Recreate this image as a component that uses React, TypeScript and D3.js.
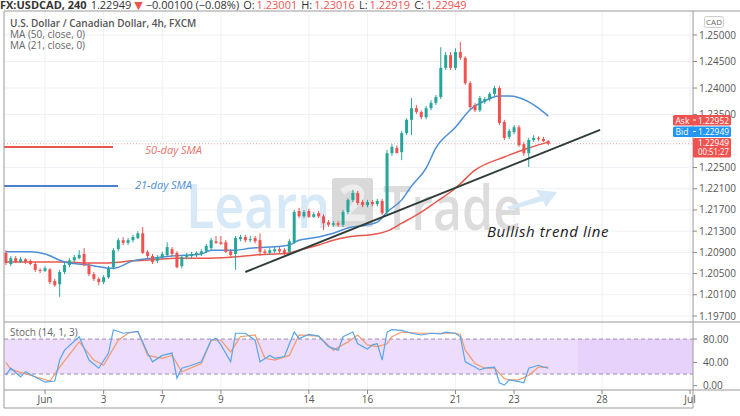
import React from "react";
import * as d3 from "d3";

// ---- DATA ----
// 4h candles [open, high, low, close], index 8 = first candle of Jun 1
const candles: [number, number, number, number][] = [
  [1.2089, 1.2094, 1.2066, 1.2070], [1.2068, 1.2083, 1.2064, 1.2079], [1.2079, 1.2083, 1.2070, 1.2072], [1.2072, 1.2081, 1.2070, 1.2077],
  [1.2077, 1.2079, 1.2068, 1.2072], [1.2074, 1.2077, 1.2066, 1.2068], [1.2068, 1.2072, 1.2053, 1.2057], [1.2057, 1.2060, 1.2051, 1.2055],
  [1.2055, 1.2064, 1.2053, 1.2060], [1.2058, 1.2060, 1.2030, 1.2034], [1.2036, 1.2040, 1.2025, 1.2028], [1.2030, 1.2057, 1.2006, 1.2053],
  [1.2053, 1.2070, 1.2049, 1.2066], [1.2066, 1.2079, 1.2062, 1.2075], [1.2075, 1.2085, 1.2072, 1.2081], [1.2079, 1.2094, 1.2077, 1.2085],
  [1.2087, 1.2098, 1.2064, 1.2066], [1.2066, 1.2070, 1.2045, 1.2049], [1.2049, 1.2053, 1.2036, 1.2040], [1.2040, 1.2043, 1.2028, 1.2034],
  [1.2034, 1.2047, 1.2030, 1.2043], [1.2043, 1.2064, 1.2040, 1.2060], [1.2062, 1.2098, 1.2058, 1.2094], [1.2096, 1.2117, 1.2092, 1.2113],
  [1.2113, 1.2119, 1.2104, 1.2108], [1.2108, 1.2117, 1.2104, 1.2113], [1.2113, 1.2123, 1.2109, 1.2119], [1.2117, 1.2130, 1.2115, 1.2126],
  [1.2126, 1.2138, 1.2087, 1.2089], [1.2091, 1.2094, 1.2079, 1.2083], [1.2083, 1.2087, 1.2068, 1.2072], [1.2074, 1.2085, 1.2070, 1.2081],
  [1.2081, 1.2091, 1.2077, 1.2087], [1.2085, 1.2109, 1.2081, 1.2100], [1.2096, 1.2100, 1.2083, 1.2087], [1.2089, 1.2092, 1.2060, 1.2062],
  [1.2064, 1.2085, 1.2060, 1.2081], [1.2081, 1.2089, 1.2077, 1.2085], [1.2083, 1.2091, 1.2079, 1.2087], [1.2085, 1.2092, 1.2081, 1.2089],
  [1.2087, 1.2096, 1.2083, 1.2092], [1.2092, 1.2106, 1.2089, 1.2102], [1.2098, 1.2117, 1.2094, 1.2113], [1.2111, 1.2121, 1.2106, 1.2108],
  [1.2109, 1.2121, 1.2104, 1.2106], [1.2109, 1.2113, 1.2089, 1.2091], [1.2092, 1.2096, 1.2081, 1.2085], [1.2087, 1.2121, 1.2057, 1.2117],
  [1.2115, 1.2123, 1.2111, 1.2119], [1.2119, 1.2123, 1.2109, 1.2113], [1.2113, 1.2121, 1.2109, 1.2115], [1.2117, 1.2121, 1.2107, 1.2111],
  [1.2113, 1.2126, 1.2083, 1.2091], [1.2092, 1.2096, 1.2085, 1.2089], [1.2089, 1.2098, 1.2085, 1.2094], [1.2092, 1.2100, 1.2089, 1.2096],
  [1.2096, 1.2100, 1.2089, 1.2092], [1.2094, 1.2098, 1.2085, 1.2089], [1.2091, 1.2115, 1.2087, 1.2111], [1.2109, 1.2170, 1.2106, 1.2166],
  [1.2168, 1.2174, 1.2155, 1.2158], [1.2158, 1.2170, 1.2155, 1.2166], [1.2168, 1.2172, 1.2155, 1.2157], [1.2157, 1.2166, 1.2155, 1.2162],
  [1.2164, 1.2168, 1.2155, 1.2158], [1.2158, 1.2162, 1.2132, 1.2145], [1.2147, 1.2151, 1.2138, 1.2142], [1.2142, 1.2149, 1.2138, 1.2145],
  [1.2145, 1.2149, 1.2138, 1.2142], [1.2142, 1.2170, 1.2138, 1.2166], [1.2166, 1.2192, 1.2162, 1.2189], [1.2189, 1.2208, 1.2185, 1.2202],
  [1.2202, 1.2206, 1.2179, 1.2183], [1.2185, 1.2189, 1.2175, 1.2179], [1.2179, 1.2189, 1.2175, 1.2185], [1.2185, 1.2189, 1.2177, 1.2181],
  [1.2181, 1.2191, 1.2177, 1.2187], [1.2187, 1.2191, 1.2160, 1.2164], [1.2166, 1.2283, 1.2162, 1.2277], [1.2277, 1.2294, 1.2272, 1.2289],
  [1.2287, 1.2292, 1.2279, 1.2277], [1.2279, 1.2319, 1.2264, 1.2315], [1.2315, 1.2343, 1.2311, 1.2340], [1.2340, 1.2381, 1.2311, 1.2362],
  [1.2362, 1.2368, 1.2351, 1.2355], [1.2355, 1.2358, 1.2341, 1.2345], [1.2345, 1.2366, 1.2341, 1.2362], [1.2362, 1.2377, 1.2358, 1.2372],
  [1.2372, 1.2387, 1.2368, 1.2383], [1.2383, 1.2477, 1.2379, 1.2438], [1.2438, 1.2468, 1.2434, 1.2462], [1.2462, 1.2468, 1.2434, 1.2438],
  [1.2438, 1.2475, 1.2434, 1.2468], [1.2468, 1.2487, 1.2453, 1.2457], [1.2457, 1.2460, 1.2406, 1.2409], [1.2409, 1.2413, 1.2360, 1.2364],
  [1.2368, 1.2372, 1.2355, 1.2358], [1.2358, 1.2385, 1.2355, 1.2381], [1.2374, 1.2383, 1.2370, 1.2379], [1.2379, 1.2392, 1.2375, 1.2389],
  [1.2389, 1.2404, 1.2385, 1.2400], [1.2400, 1.2404, 1.2330, 1.2334], [1.2336, 1.2340, 1.2302, 1.2306], [1.2308, 1.2323, 1.2304, 1.2319],
  [1.2317, 1.2330, 1.2313, 1.2326], [1.2326, 1.2330, 1.2289, 1.2292], [1.2294, 1.2298, 1.2272, 1.2277], [1.2277, 1.2306, 1.2251, 1.2302],
  [1.2302, 1.2311, 1.2298, 1.2306], [1.2306, 1.2309, 1.2300, 1.2304], [1.2304, 1.2308, 1.2298, 1.2300], [1.23001, 1.23016, 1.22919, 1.22949],
];

// MA lines read at candle indices [index, price]
const ma21: [number, number][] = [
  [0, 1.2091], [5, 1.2091], [8, 1.2087], [12, 1.2072], [17, 1.2066], [22, 1.2060], [26, 1.2074], [30, 1.2079],
  [34, 1.2083], [40, 1.2087], [42, 1.2094], [47, 1.2094], [50, 1.2098], [54, 1.2100], [58, 1.2104], [60, 1.2113],
  [64, 1.2119], [67, 1.2126], [70, 1.2136], [74, 1.2142], [76, 1.2147], [78, 1.2166], [81, 1.2189], [83, 1.2215],
  [86, 1.2249], [88, 1.2287], [92, 1.2326], [95, 1.2359], [98, 1.2376], [101, 1.2385], [103, 1.2385], [107, 1.2374],
  [109, 1.2362], [111, 1.2347],
];
const ma50: [number, number][] = [
  [0, 1.2072], [7, 1.2072], [12, 1.2072], [17, 1.2070], [21, 1.2070], [26, 1.2074], [30, 1.2076], [35, 1.2079],
  [40, 1.2079], [46, 1.2081], [51, 1.2085], [58, 1.2089], [60, 1.2094], [64, 1.2104], [67, 1.2113], [70, 1.2119],
  [76, 1.2125], [78, 1.2130], [81, 1.2145], [85, 1.2166], [88, 1.2185], [92, 1.2211], [96, 1.2245], [102, 1.2270],
  [107, 1.2287], [111, 1.2298],
];

// Stochastic %K and %D read at candle indices [index, value]
const stochK: [number, number][] = [
  [0, 18], [1, 30], [3, 15], [4, 24], [6, 15], [8, 6], [10, 8], [11, 44], [12, 61], [15, 84], [17, 44], [19, 30],
  [21, 56], [22, 96], [24, 90], [27, 93], [29, 56], [30, 41], [32, 52], [34, 56], [35, 13], [36, 30], [38, 35],
  [40, 41], [42, 78], [43, 81], [44, 70], [46, 41], [47, 90], [49, 90], [51, 78], [52, 41], [54, 52], [55, 47],
  [57, 50], [59, 92], [60, 81], [62, 88], [64, 85], [66, 67], [68, 61], [69, 84], [71, 92], [72, 72], [74, 63],
  [75, 70], [76, 72], [77, 44], [78, 92], [79, 96], [81, 95], [83, 90], [85, 87], [87, 90], [89, 89], [90, 92],
  [92, 90], [93, 84], [94, 41], [96, 32], [97, 27], [98, 30], [100, 32], [101, 5], [102, 1], [103, 10], [105, 7],
  [106, 5], [107, 30], [109, 35], [110, 32], [111, 30],
];
const stochD: [number, number][] = [
  [0, 40], [1, 28], [5, 18], [9, 8], [11, 32], [15, 75], [18, 44], [20, 35], [23, 78], [25, 90], [27, 93], [29, 52],
  [32, 47], [34, 52], [36, 24], [40, 38], [42, 78], [44, 78], [46, 58], [48, 84], [51, 87], [53, 47], [55, 44],
  [58, 52], [60, 87], [64, 85], [67, 61], [70, 75], [72, 87], [74, 70], [76, 67], [78, 72], [79, 84], [81, 92],
  [85, 90], [89, 90], [92, 90], [93, 88], [94, 61], [96, 38], [98, 30], [100, 30], [102, 12], [103, 10], [105, 10],
  [107, 18], [109, 32], [111, 32],
];

const priceTicks = [1.25, 1.245, 1.24, 1.235, 1.225, 1.221, 1.217, 1.213, 1.209, 1.205, 1.201, 1.197];
const priceGrid = [1.25, 1.245, 1.24, 1.235, 1.23, 1.225, 1.221, 1.217, 1.213, 1.209, 1.205, 1.201, 1.197];
const stochTicks = [80, 40, 0];
const dateLabels = ["Jun", "3", "7", "9", "14", "16", "21", "23", "28", "Jul"];
const dateDayIndex = [0, 2, 4, 6, 9, 11, 14, 16, 19, 22];
const trendLine: [number, number][] = [[49, 1.2053], [121.6, 1.2321]];

const askPrice = "1.22952";
const bidPrice = "1.22949";
const lastPrice = 1.22949;
const countdown = "00:51:27";

const UP = "#26a69a";
const DOWN = "#ef5350";
const FONT = "'Open Sans', 'DejaVu Sans', sans-serif";

export default function App() {
  const W = 740, H = 416;
  const left = 4, axisX = 693, top = 11, mainBottom = 322, stochBottom = 390, bottom = 408;

  const x = d3.scaleLinear().domain([8, 140]).range([45, 690]);
  const y = d3.scaleLinear().domain([1.197, 1.25]).range([316, 35]);
  const ys = d3.scaleLinear().domain([0, 100]).range([385.7, 327.4]);

  const maLine = d3.line<[number, number]>().x(d => x(d[0])).y(d => y(d[1])).curve(d3.curveMonotoneX);
  const stLine = d3.line<[number, number]>().x(d => x(d[0])).y(d => ys(d[1]));
  const dateX = dateDayIndex.map(d => x(8 + d * 6));

  const bw = 3;

  return (
    <div style={{ position: "absolute", left: 0, top: 0, width: W, height: H, background: "#fff" }}>
      <svg width={W} height={H} style={{ display: "block", fontFamily: FONT }}>
        <defs>
          <clipPath id="mainClip"><rect x={left} y={top} width={axisX - left} height={mainBottom - top} /></clipPath>
          <clipPath id="stochClip"><rect x={left} y={mainBottom} width={axisX - left} height={stochBottom - mainBottom} /></clipPath>
        </defs>
        <rect width={W} height={H} fill="#fff" />

        {/* header */}
        <text x={0} y={8.5} fontSize={11} fill="#333">
          <tspan fontWeight="bold">FX:USDCAD, 240</tspan>
          <tspan dx={4}>1.22949</tspan>
          <tspan dx={3} fill={DOWN}>▼</tspan>
          <tspan dx={3}>−0.00100 (−0.08%)</tspan>
          <tspan dx={4}>O:</tspan><tspan dx={2} fill={DOWN}>1.23001</tspan>
          <tspan dx={4}>H:</tspan><tspan dx={2} fill={DOWN}>1.23016</tspan>
          <tspan dx={4}>L:</tspan><tspan dx={2} fill={DOWN}>1.22919</tspan>
          <tspan dx={4}>C:</tspan><tspan dx={2} fill={DOWN}>1.22949</tspan>
        </text>

        {/* grid */}
        <g stroke="#eef1f5" strokeWidth={1}>
          {priceGrid.map(p => <line key={p} x1={left} x2={axisX} y1={y(p)} y2={y(p)} />)}
          {dateX.map((dx, i) => <line key={i} x1={dx} x2={dx} y1={top} y2={stochBottom} />)}
        </g>

        {/* watermark */}
        <g>
          <text x={186} y={228} fontSize={62} fontWeight={600} fill="#d7e8f6" textLength={144} lengthAdjust="spacingAndGlyphs">Learn</text>
          <rect x={332} y={178} width={41} height={49} rx={3} fill="#d9d9d9" />
          <text x={352.5} y={221} fontSize={50} fill="#ececec" textAnchor="middle" fontWeight="bold">2</text>
          <text x={383} y={230} fontSize={62} fontWeight={600} fill="#dcdcdc" textLength={139} lengthAdjust="spacingAndGlyphs">Trade</text>
          <path d="M507,207 L540,196 L536,190 L557,192 L546,207 L543,201 L510,210 Z" fill="#d6e7f5" />
        </g>

        {/* stoch pane */}
        <g clipPath="url(#stochClip)">
          <rect x={left} y={ys(80)} width={axisX - left} height={ys(20) - ys(80)} fill="#eddcfc" />
          <rect x={578} y={ys(80)} width={axisX - 578} height={ys(20) - ys(80)} fill="#e6d2fb" />
          <line x1={left} x2={axisX} y1={ys(80)} y2={ys(80)} stroke="#9d8bb5" strokeDasharray="4,3" />
          <line x1={left} x2={axisX} y1={ys(20)} y2={ys(20)} stroke="#9d8bb5" strokeDasharray="4,3" />
          <path d={stLine(stochD) || ""} fill="none" stroke="#f39a6b" strokeWidth={1.2} />
          <path d={stLine(stochK) || ""} fill="none" stroke="#58a6ea" strokeWidth={1.2} />
        </g>
        <text x={10} y={336} fontSize={10} fill="#666">Stoch (14, 1, 3)</text>

        {/* main pane */}
        <g clipPath="url(#mainClip)">
          <line x1={left} x2={axisX} y1={y(lastPrice)} y2={y(lastPrice)} stroke="#f3a3a1" strokeDasharray="1,2" />
          <path d={maLine(ma50) || ""} fill="none" stroke="#e8574d" strokeWidth={1.5} />
          <path d={maLine(ma21) || ""} fill="none" stroke="#4c8fd6" strokeWidth={1.5} />
          {candles.map((c, i) => {
            const [o, h, l, cl] = c;
            const up = cl >= o;
            const col = up ? UP : DOWN;
            const cx = x(i);
            const yTop = y(Math.max(o, cl));
            const yBot = y(Math.min(o, cl));
            return (
              <g key={i}>
                <line x1={cx} x2={cx} y1={y(h)} y2={y(l)} stroke={col} strokeWidth={1} />
                <rect x={cx - bw / 2} y={yTop} width={bw} height={Math.max(1, yBot - yTop)} fill={col} />
              </g>
            );
          })}
          <line x1={x(trendLine[0][0])} y1={y(trendLine[0][1])} x2={x(trendLine[1][0])} y2={y(trendLine[1][1])}
            stroke="#2f3d38" strokeWidth={2} />
          {/* annotations */}
          <line x1={left} x2={113} y1={147} y2={147} stroke="#e8574d" strokeWidth={2} />
          <text x={145} y={154} fontSize={11} fontStyle="italic" fill="#e8746c">50-day SMA</text>
          <line x1={left} x2={118} y1={186} y2={186} stroke="#4c7fd0" strokeWidth={2} />
          <text x={135} y={189} fontSize={11} fontStyle="italic" fill="#4c8fd6">21-day SMA</text>
          <text x={487} y={237} fontSize={15} fontStyle="italic" fill="#222" letterSpacing={0.6}>Bullish trend  line</text>
        </g>

        {/* legend */}
        <text x={10} y={27} fontSize={10} fontWeight={600} fill="#555">U.S. Dollar / Canadian Dollar, 4h, FXCM</text>
        <text x={10} y={38} fontSize={10} fill="#666">MA (50, close, 0)</text>
        <text x={10} y={49} fontSize={10} fill="#666">MA (21, close, 0)</text>

        {/* frame */}
        <g stroke="#9a9a9a" strokeWidth={1} fill="none">
          <line x1={left} x2={W} y1={top} y2={top} />
          <line x1={left} x2={left} y1={top} y2={bottom} />
          <line x1={axisX} x2={axisX} y1={top} y2={bottom} />
          <line x1={left} x2={W} y1={mainBottom} y2={mainBottom} />
          <line x1={left} x2={W} y1={stochBottom} y2={stochBottom} />
          <line x1={left} x2={axisX} y1={bottom} y2={bottom} />
        </g>

        {/* CAD box */}
        <rect x={704.5} y={16.5} width={19} height={11} rx={2} fill="#fff" stroke="#ccc" />
        <text x={714} y={25} fontSize={8} fill="#666" textAnchor="middle">CAD</text>

        {/* price axis */}
        {priceTicks.map(p => (
          <g key={p}>
            <line x1={axisX} x2={axisX + 4} y1={y(p)} y2={y(p)} stroke="#888" />
            <text x={699} y={y(p) + 3.5} fontSize={10} fill="#555">{p.toFixed(5)}</text>
          </g>
        ))}
        {stochTicks.map(v => (
          <g key={v}>
            <line x1={axisX} x2={axisX + 4} y1={ys(v)} y2={ys(v)} stroke="#888" />
            <text x={703} y={ys(v) + 3.5} fontSize={10} fill="#555">{v.toFixed(2)}</text>
          </g>
        ))}

        {/* ask / bid / last labels */}
        <rect x={673} y={115} width={58} height={10.5} rx={1.5} fill="#ef5350" />
        <text x={675.5} y={123.5} fontSize={8.5} fill="#fff">Ask</text>
        <line x1={axisX} x2={axisX + 3} y1={120} y2={120} stroke="#fff" />
        <text x={698} y={123.5} fontSize={8.5} fill="#fff" textLength={31} lengthAdjust="spacingAndGlyphs">{askPrice}</text>
        <rect x={673} y={126.5} width={58} height={10.5} rx={1.5} fill="#2196f3" />
        <text x={675.5} y={135} fontSize={8.5} fill="#fff">Bid</text>
        <line x1={axisX} x2={axisX + 3} y1={131.5} y2={131.5} stroke="#fff" />
        <text x={698} y={135} fontSize={8.5} fill="#fff" textLength={31} lengthAdjust="spacingAndGlyphs">{bidPrice}</text>
        <rect x={693} y={138} width={38} height={19.5} rx={1.5} fill="#ef5350" />
        <text x={698} y={146} fontSize={8.5} fill="#fff" textLength={31} lengthAdjust="spacingAndGlyphs">{lastPrice.toFixed(5)}</text>
        <text x={698} y={155} fontSize={8.5} fill="#fff" textLength={31} lengthAdjust="spacingAndGlyphs">{countdown}</text>

        {/* date axis */}
        {dateX.map((dx, i) => (
          <g key={i}>
            <line x1={dx} x2={dx} y1={stochBottom} y2={stochBottom + 4} stroke="#888" />
            <text x={dx} y={403} fontSize={10} fill="#555" textAnchor="middle">{dateLabels[i]}</text>
          </g>
        ))}
      </svg>
    </div>
  );
}
